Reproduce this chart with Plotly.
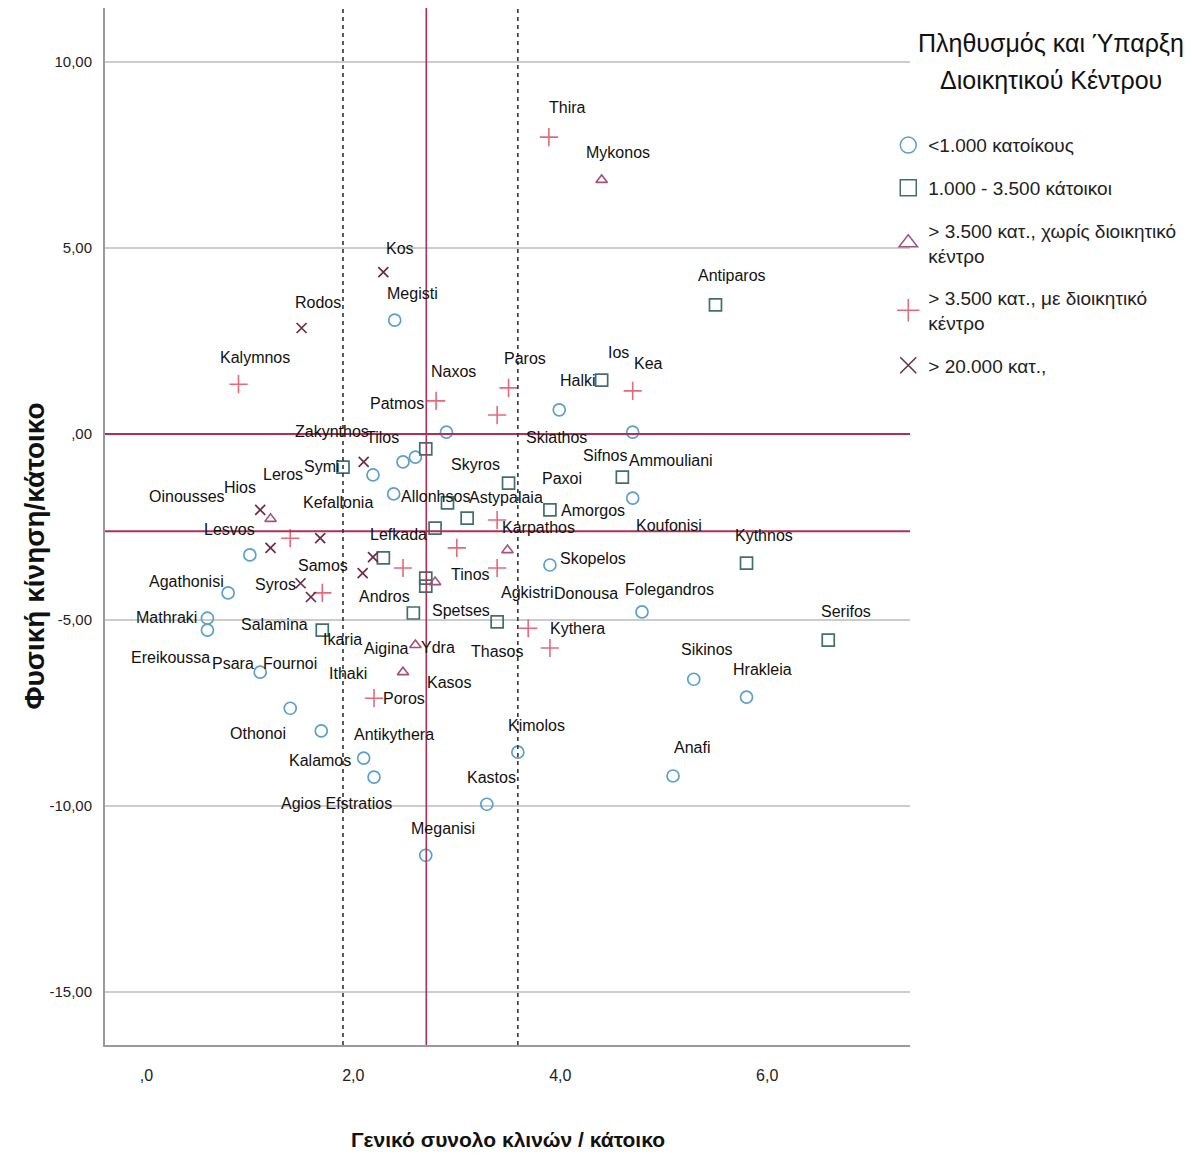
import plotly.graph_objects as go

# ---------------- data ----------------
pt_id = ["c1","c2","c3","c4","c5","c6","c7","c8","c9","c10","c11","c12","c13","c14","c15","c16","c17","c18","c19","c20","c21","c22","c23","c24","c25","c26",
         "s1","s2","s3","s4","s5","s6","s7","s8","s9","s10","s11","s12","s13","s14","s15","s16","s17","s18",
         "t1","t2","t3","t4","t5","t6",
         "p1","p2","p3","p4","p5","p6","p7","p8","p9","p10","p11","p12","p13","p14","p15",
         "x1","x2","x3","x4","x5","x6","x7","x8","x9","x10"]
pt_x = [2.40,3.99,2.90,4.70,2.48,2.60,2.19,2.39,4.70,1.00,3.90,0.79,4.79,0.59,0.59,1.10,5.29,5.80,1.39,1.69,2.10,2.20,3.59,5.09,3.29,2.70,
        5.50,4.40,2.70,1.90,3.50,4.60,2.91,3.10,3.90,2.79,2.29,5.80,2.70,2.70,2.58,3.39,1.70,6.59,
        4.40,1.20,3.49,2.79,2.60,2.48,
        3.89,0.89,2.80,3.50,3.39,4.70,3.39,1.39,3.00,2.48,3.39,1.70,3.69,3.90,2.20,
        2.29,1.50,2.10,1.10,1.68,1.20,2.19,2.09,1.49,1.59]
pt_y = [3.06,0.65,0.05,0.05,-0.75,-0.62,-1.10,-1.61,-1.72,-3.25,-3.52,-4.27,-4.78,-4.95,-5.27,-6.40,-6.59,-7.07,-7.37,-7.98,-8.71,-9.22,-8.55,-9.19,-9.95,-11.32,
        3.47,1.45,-0.40,-0.89,-1.32,-1.16,-1.85,-2.26,-2.04,-2.53,-3.33,-3.47,-3.87,-4.09,-4.81,-5.05,-5.27,-5.54,
        6.83,-2.28,-3.12,-3.98,-5.67,-6.40,
        7.98,1.34,0.89,1.24,0.51,1.16,-2.31,-2.80,-3.06,-3.60,-3.60,-4.27,-5.22,-5.75,-7.10,
        4.35,2.85,-0.75,-2.04,-2.80,-3.06,-3.31,-3.74,-4.01,-4.38]
pt_cat = [0]*26 + [1]*18 + [2]*6 + [3]*15 + [4]*10

legend_title = ["Πληθυσμός και Ύπαρξη", "Διοικητικού Κέντρου"]
cat_names = ["<1.000 κατοίκους",
             "1.000 - 3.500 κάτοικοι",
             "> 3.500 κατ., χωρίς διοικητικό<br>κέντρο",
             "> 3.500 κατ., με διοικητικό<br>κέντρο",
             "> 20.000 κατ.,"]

# point labels: text, attached point id
lab_text = ["Thira","Mykonos","Kos","Antiparos","Megisti","Rodos","Kalymnos","Naxos","Paros","Ios","Kea","Halki",
            "Patmos","Zakynthos","Tilos","Skiathos","Sifnos","Ammouliani","Skyros","Symi","Leros","Paxoi","Hios",
            "Oinousses","Allonhsos","Astypalaia","Kefallonia","Amorgos","Koufonisi","Kythnos","Lesvos","Lefkada",
            "Karpathos","Skopelos","Samos","Tinos","Agathonisi","Syros","Andros","Agkistri","Donousa","Folegandros",
            "Serifos","Spetses","Mathraki","Salamina","Kythera","Ikaria","Aigina","Ydra","Thasos","Sikinos",
            "Ereikoussa","Psara","Fournoi","Hrakleia","Ithaki","Kasos","Poros","Othonoi","Antikythera","Kimolos",
            "Anafi","Kalamos","Kastos","Agios Efstratios","Meganisi"]
lab_pt = ["p1","t1","x1","s1","c1","x2","p2","p3","p4","s2","p6","c2",
          "c3","x3","c7","p5","s6","c4","s7","s4","t2","s5","x4",
          "c10","c8","s8","x5","s9","c9","s12","x6","x7",
          "p7","c11","x8","p9","c12","x9","p10","p11","t3","c13",
          "s18","s16","c14","x10","p14","s17","s15","t5","p13","c17",
          "c15","c16","c16","c18","p15","t6","p15","c20","c21","c23",
          "c24","c22","c25","c22","c26"]
# label offsets in pixels (right, down)
lab_dx = [19,16,17,17,18,16,17,17,16,17,16,19,
          -49,-32,10,59,-17,38,28,-21,12,53,-20,
          -63,42,39,18,43,36,17,-41,26,
          41,43,-40,14,-42,-25,-18,30,78,27,
          18,-36,-41,-36,28,20,-27,23,-31,13,
          -37,-27,30,16,-26,46,30,-63,30,19,
          19,-54,5,-38,17]
lab_dy = [-30,-27,-24,-29,-27,-25,-27,-29,-29,-28,-27,-29,
          -29,-30,-37,22,-22,28,-38,-1,-44,-5,-22,
          -58,3,-21,-36,1,27,-28,-18,-23,
          8,-7,-8,27,-11,1,29,25,43,-22,
          -29,-11,-1,27,-19,9,35,2,23,-30,
          27,-9,-9,-28,-25,10,0,3,-24,-27,
          -28,-17,-27,26,-27]

# reference lines
h_ref = [0.0, -2.61]
v_ref = 2.705
v_dash = [1.90, 3.59]

x_ticks = [0, 2, 4, 6]
x_ticktext = [",0", "2,0", "4,0", "6,0"]
y_ticks = [10, 5, 0, -5, -10, -15]
y_ticktext = ["10,00", "5,00", ",00", "-5,00", "-10,00", "-15,00"]

# ---------------- styles ----------------
NARROW = "Liberation Sans Narrow, Arial Narrow, Liberation Sans, Arial, sans-serif"
styles = [
    dict(symbol="circle-open", color="#5B9FCC", size=12, width=1.7),
    dict(symbol="square-open", color="#41706B", size=12, width=1.7),
    dict(symbol="triangle-up-open", color="#A3527E", size=10, width=1.6),
    dict(symbol="cross-thin-open", color="#E5697B", size=13, width=1.6),
    dict(symbol="x-thin-open", color="#6C2B47", size=10, width=1.7),
]

fig = go.Figure()

for k in range(5):
    xs = [x for x, c in zip(pt_x, pt_cat) if c == k]
    ys = [y for y, c in zip(pt_y, pt_cat) if c == k]
    st = styles[k]
    fig.add_trace(go.Scatter(
        x=xs, y=ys, mode="markers", showlegend=False, hoverinfo="skip",
        marker=dict(symbol=st["symbol"], size=st["size"], color=st["color"],
                    line=dict(color=st["color"], width=st["width"])),
    ))

# legend entries
for k in range(5):
    st = styles[k]
    fig.add_trace(go.Scatter(
        x=[None], y=[None], mode="markers", name=cat_names[k], legendgroup=str(k),
        marker=dict(symbol=st["symbol"], size=16, color=st["color"],
                    line=dict(color=st["color"], width=1.5)),
    ))

# point labels
pos = {pid: (x, y) for pid, x, y in zip(pt_id, pt_x, pt_y)}
for t, p, dx, dy in zip(lab_text, lab_pt, lab_dx, lab_dy):
    px, py = pos[p]
    fig.add_annotation(x=px, y=py, xref="x", yref="y", text=t, showarrow=False,
                       xshift=dx, yshift=-dy, xanchor="center", yanchor="middle",
                       font=dict(family=NARROW, size=16, color="#111111"))

# reference lines
for hv in h_ref:
    fig.add_shape(type="line", xref="paper", yref="y", x0=0, x1=1, y0=hv, y1=hv,
                  line=dict(color="#B22E55", width=2))
fig.add_shape(type="line", xref="x", yref="paper", x0=v_ref, x1=v_ref, y0=0, y1=1,
              line=dict(color="#B22E55", width=1.6))
for vd in v_dash:
    fig.add_shape(type="line", xref="x", yref="paper", x0=vd, x1=vd, y0=0, y1=1,
                  line=dict(color="#333333", width=1.6, dash="4px,4px"))

# axis titles
fig.add_annotation(x=-0.087, y=0.472, xref="paper", yref="paper", showarrow=False,
                   xanchor="center", yanchor="middle",
                   text="<b>Φυσική κίνηση/κάτοικο</b>", textangle=-90,
                   font=dict(family=NARROW, size=28, color="#111111"))
fig.add_annotation(x=0.5, y=-0.0916, xref="paper", yref="paper", showarrow=False,
                   xanchor="center", yanchor="middle",
                   text="<b>Γενικό συνολο κλινών / κάτοικο</b>",
                   font=dict(family=NARROW, size=21, color="#111111"))

# legend title (two centred lines)
for line_text, ly in zip(legend_title, [0.9662, 0.9306]):
    fig.add_annotation(x=1.175, y=ly, xref="paper", yref="paper", showarrow=False,
                       xanchor="center", yanchor="middle", text=line_text,
                       font=dict(family=NARROW, size=25, color="#111111"))

fig.update_layout(
    width=1184, height=1150,
    margin=dict(l=97, r=282, t=0, b=113),
    paper_bgcolor="white", plot_bgcolor="white",
    xaxis=dict(range=[-0.40, 7.38], showgrid=False, zeroline=False,
               showline=True, linecolor="#9a9a9a", linewidth=2,
               tickvals=x_ticks, ticktext=x_ticktext, ticks="",
               ticklabelstandoff=15,
               tickfont=dict(family=NARROW, size=16, color="#222222")),
    yaxis=dict(range=[-16.42, 11.45], showgrid=True, gridcolor="#cccccc", gridwidth=2,
               zeroline=False, showline=True, linecolor="#9a9a9a", linewidth=2,
               tickvals=y_ticks, ticktext=y_ticktext, ticks="",
               ticklabelstandoff=8,
               tickfont=dict(family="Liberation Sans, Arial, sans-serif", size=15, color="#222222")),
    legend=dict(x=0.973, y=0.886, xanchor="left", yanchor="top",
                font=dict(family=NARROW, size=19, color="#222222"),
                itemsizing="trace", tracegroupgap=15, bgcolor="rgba(0,0,0,0)"),
)

fig.write_html("out.html")
